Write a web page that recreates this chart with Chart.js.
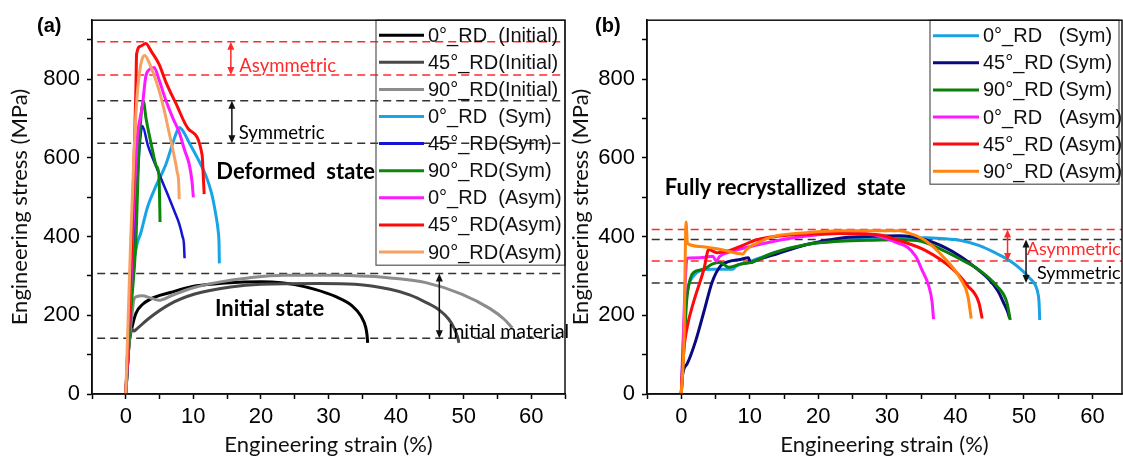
<!DOCTYPE html>
<html>
<head>
<meta charset="UTF-8">
<title>Engineering stress-strain curves</title>
<script src="https://cdn.jsdelivr.net/npm/chart.js@4"></script>
<style>
  body { margin: 0; background: #fff; }
  #wrap { position: relative; width: 1123px; height: 459px; overflow: hidden; }
  canvas { position: absolute; top: 0; }
  #chartA { left: 0; }
  #chartB { left: 568px; }
</style>
</head>
<body>
<div id="wrap">
  <canvas id="chartA" width="570" height="459"></canvas>
  <canvas id="chartB" width="555" height="459"></canvas>
</div>
<script>
// ---------- data: [strain %, stress MPa] ----------
// (a) initial + deformed state
const aInit0 = [[0,0],[0.5,130],[0.8,160],[1.5,205],[2.5,228],[4.4,247],[6.6,258],[9.3,271],[12,278],[16.7,284],[20,285],[23,283],[25,278],[28,266],[31,248],[33.5,224],[34.8,198],[35.5,170],[35.7,150],[35.8,130]];
const aInit45 = [[0,0],[0.5,130],[0.9,165],[1.2,160],[1.6,165],[3.4,192],[6.6,229],[10.2,254],[15.5,272],[20,279],[28.6,281],[33.9,279],[39.1,266],[42,252],[44.4,233],[46.5,212],[47.8,190],[48.6,167],[49.1,145],[49.3,130]];
const aInit90 = [[0,0],[0.5,130],[0.9,200],[1.2,240],[1.5,247],[2.5,250],[3.5,245],[4.9,238],[6.9,251],[10,270],[14,285],[18.1,295],[23.4,302],[31.3,302],[36,299],[39.1,295],[44.4,283],[49.7,254],[53.9,217],[56,190],[57.2,168]];
const aSym0 = [[0,0],[0.5,180],[1.0,309],[1.7,383],[2.2,408],[3.2,474],[4.5,530],[5.9,582],[7.0,640],[7.6,669],[7.9,677],[8.4,670],[9.35,640],[10.6,600],[11.8,557],[12.7,510],[13.3,458],[13.7,410],[13.8,383],[13.85,332]];
const aSym45 = [[0,0],[0.8,250],[1.5,480],[2.0,620],[2.45,681],[3.3,630],[4.4,582],[5.4,540],[6.4,499],[7.3,460],[7.9,433],[8.4,400],[8.6,383],[8.7,345]];
const aSym90 = [[0,0],[0.7,200],[1.48,383],[1.96,624],[2.6,744],[3.0,700],[3.9,624],[4.5,580],[4.9,556],[5.0,500],[5.07,437]];
const aAsym0 = [[0,0],[0.8,300],[1.3,520],[1.7,649],[2.45,731],[2.95,806],[3.5,825],[4.2,830],[4.9,800],[5.9,748],[7.0,700],[7.9,665],[8.7,620],[9.4,583],[9.8,540],[10.0,500]];
const aAsym45 = [[0,0],[0.5,200],[0.88,383],[1.1,520],[1.33,665],[1.5,780],[1.6,864],[2.2,884],[2.95,891],[3.8,870],[4.9,839],[6.0,790],[7.4,739],[9.3,673],[11.3,607],[11.45,560],[11.6,508]];
const aAsym90 = [[0,0],[0.74,400],[1.2,600],[1.6,740],[2.0,814],[2.4,850],[2.8,860],[3.5,840],[4.9,773],[5.7,720],[6.4,665],[7.1,610],[7.6,565],[7.85,530],[7.9,495]];
const aRefAsym = [895, 811];
const aRefSym = [745, 637.5];
const aRefInit = [306, 142];

// (b) fully recrystallized state
const bSym0 = [[0,0],[0.5,200],[1.0,270],[1.8,300],[2.7,313],[4.6,317],[6.1,317],[7.5,317],[8.0,325],[9.5,334],[13.5,358],[18.3,380],[23.1,390],[28,394],[32,395],[35.6,397],[38,395],[40.8,390],[43.5,377],[46,357],[48,338],[49.6,316],[50.8,295],[51.7,275],[52.1,250],[52.2,233],[52.3,188]];
const bSym45 = [[0,0],[0.15,44],[0.87,77],[2.1,135],[3.3,209],[4.5,284],[5.7,325],[7,337],[8.6,342],[9.8,346],[10.1,334],[11,340],[13.5,354],[18.3,380],[23.1,396],[27,400],[31.9,402],[35.6,392],[38.5,372],[40.8,349],[43,320],[44.9,291],[46.2,262],[47,233],[47.7,205],[47.9,192]];
const bSym90 = [[0,0],[0.5,150],[0.8,240],[1.3,292],[1.8,309],[3.3,317],[4.5,330],[5.7,334],[6.9,322],[8.6,330],[10.1,334],[13.5,359],[18.3,380],[23.1,388],[28,391],[31.9,392],[35,388],[38.2,365],[41,340],[43.4,316],[46,275],[47.5,233],[48,188]];
const bAsym0 = [[0,0],[0.5,250],[0.84,345],[2.7,346],[4.6,350],[5.1,338],[5.6,350],[6.7,359],[10.1,375],[15.9,396],[23.1,408],[28,405],[31.5,384],[33,373],[34.2,350],[35.1,316],[36.1,275],[36.6,233],[36.8,190]];
const bAsym45 = [[0,0],[0.3,100],[0.84,168],[1.8,234],[3.3,317],[4.0,367],[5.2,359],[6.7,363],[8.6,375],[11,392],[15.9,404],[23.1,408],[27,407],[29,404],[31.4,392],[35.6,365],[39.7,316],[41.8,275],[43.4,233],[43.9,192]];
const bAsym90 = [[0,0],[0.4,135],[0.7,437],[0.9,383],[2.7,375],[6.1,366],[9.0,356],[9.5,367],[11,383],[13.4,400],[18.3,410],[23.1,415],[31.9,415],[33.5,407],[35.6,390],[38.2,349],[40.8,291],[41.8,250],[42.3,192]];
const bRefAsym = [418, 338];
const bRefSym = [392.5, 282];

const xTicks = { min: -5, step: 5, labelEvery: 10 };
const yTicks = { min: 0, max: 950, step: 100, labelEvery: 200 };

// ---------- helpers ----------
const ARIAL = '"Liberation Sans", Arial, sans-serif';
const CALIB = 'Lato, "Open Sans", sans-serif';

function series(label, pts, color, width) {
  return {
    label, data: pts.map(p => ({ x: p[0], y: p[1] })),
    borderColor: color, borderWidth: width || 2.5,
    pointRadius: 0, cubicInterpolationMode: 'monotone', fill: false
  };
}
function refLine(v, color) {
  return {
    isRef: true, data: [{ x: -10, y: v }, { x: 80, y: v }],
    borderColor: color, borderWidth: 1.5, borderDash: [8, 5], pointRadius: 0
  };
}
// every step from min up to the axis max, no snapping of the last tick
function stepTicks(scale, step) {
  const out = [];
  for (let v = scale.min; v <= scale.max + 1e-9; v += step) out.push({ value: Math.round(v * 100) / 100 });
  scale.ticks = out;
}

const framePlugin = {
  id: 'frame',
  afterDraw(chart) {
    const { ctx, chartArea: a } = chart;
    ctx.save();
    ctx.strokeStyle = '#111';
    ctx.lineWidth = 1.5;
    ctx.strokeRect(a.left, a.top, a.right - a.left, a.bottom - a.top);
    ctx.restore();
  }
};

const notesPlugin = {
  id: 'notes',
  afterDatasetsDraw(chart, args, opts) {
    const { ctx, scales: { x, y } } = chart;
    ctx.save();
    (opts.arrows || []).forEach(a => {
      const px = x.getPixelForValue(a.x);
      const top = y.getPixelForValue(a.y1), bot = y.getPixelForValue(a.y2);
      ctx.strokeStyle = a.color; ctx.fillStyle = a.color; ctx.lineWidth = 1.5;
      ctx.beginPath(); ctx.moveTo(px, top + 4); ctx.lineTo(px, bot - 4); ctx.stroke();
      ctx.beginPath(); ctx.moveTo(px, top); ctx.lineTo(px - 3.5, top + 8); ctx.lineTo(px + 3.5, top + 8); ctx.fill();
      ctx.beginPath(); ctx.moveTo(px, bot); ctx.lineTo(px - 3.5, bot - 8); ctx.lineTo(px + 3.5, bot - 8); ctx.fill();
    });
    (opts.texts || []).forEach(t => {
      const px = t.px ? t.x : x.getPixelForValue(t.x);
      const py = t.px ? t.y : y.getPixelForValue(t.y);
      ctx.font = t.font;
      ctx.fillStyle = t.color || '#000';
      ctx.textAlign = 'left';
      ctx.textBaseline = 'middle';
      ctx.fillText(t.text, px, py);
    });
    ctx.restore();
  }
};

const boxLegendPlugin = {
  id: 'boxLegend',
  afterDatasetsDraw(chart, args, opts) {
    const { ctx, chartArea: a } = chart;
    const items = chart.data.datasets.filter(d => !d.isRef);
    const left = a.right - opts.fromRight;
    ctx.save();
    ctx.strokeStyle = '#555';
    ctx.lineWidth = 1.2;
    ctx.strokeRect(left, a.top, opts.width, opts.height);
    ctx.font = '20px ' + ARIAL;
    ctx.textBaseline = 'middle';
    ctx.textAlign = 'left';
    items.forEach((d, i) => {
      const yy = a.top + opts.firstRow + i * opts.rowH;
      ctx.strokeStyle = d.borderColor;
      ctx.lineWidth = 3;
      ctx.beginPath();
      ctx.moveTo(left + 3, yy); ctx.lineTo(left + 3 + opts.lineLen, yy);
      ctx.stroke();
      ctx.fillStyle = '#111';
      ctx.fillText(d.label, left + opts.textX, yy + 1);
    });
    ctx.restore();
  }
};

function scales(xMax, yWidth, yTitlePad) {
  return {
    x: {
      type: 'linear', min: xTicks.min, max: xMax,
      afterBuildTicks: s => stepTicks(s, xTicks.step),
      ticks: {
        autoSkip: false, maxRotation: 0, padding: 5, color: '#000',
        font: { family: ARIAL, size: 22 },
        callback: v => (v % xTicks.labelEvery === 0 ? v : '')
      },
      grid: { drawOnChartArea: false, tickLength: 5, tickWidth: 1.5, tickColor: '#000' },
      border: { color: '#000', width: 1.5 },
      title: { display: true, text: 'Engineering strain (%)', color: '#111',
        font: { family: CALIB, size: 22 }, padding: { top: 0, bottom: 1 } },
      afterFit(s) { s.height = 65; }
    },
    y: {
      min: yTicks.min, max: yTicks.max,
      afterBuildTicks: s => stepTicks(s, yTicks.step),
      ticks: {
        autoSkip: false, padding: 7, color: '#000',
        font: { family: ARIAL, size: 22 },
        callback: v => (v % yTicks.labelEvery === 0 ? v : '')
      },
      grid: { drawOnChartArea: false, tickLength: 5, tickWidth: 1.5, tickColor: '#000' },
      border: { color: '#000', width: 1.5 },
      title: { display: true, text: 'Engineering stress (MPa)', color: '#111',
        font: { family: CALIB, size: 22 }, padding: { top: yTitlePad, bottom: 0 } },
      afterFit(s) { s.width = yWidth; }
    }
  };
}

// ---------- panel (a) ----------
const aSets = [
  series('0°_RD  (Initial)', aInit0, '#000000', 3),
  series('45°_RD(Initial)', aInit45, '#484848', 3),
  series('90°_RD(Initial)', aInit90, '#8c8c8c', 3),
  series('0°_RD  (Sym)', aSym0, '#17a5e6', 3),
  series('45°_RD(Sym)', aSym45, '#1414d4', 2.5),
  series('90°_RD(Sym)', aSym90, '#0b870b', 3),
  series('0°_RD  (Asym)', aAsym0, '#ff19ff', 3),
  series('45°_RD(Asym)', aAsym45, '#ff0a0a', 3),
  series('90°_RD(Asym)', aAsym90, '#f6a265', 3)
];
aSets.forEach((d, i) => { d.order = -i; });
aRefAsym.forEach(v => aSets.push(refLine(v, '#ff2a2a')));
aRefSym.concat(aRefInit).forEach(v => aSets.push(refLine(v, '#333')));

new Chart(document.getElementById('chartA'), {
  type: 'line',
  data: { datasets: aSets },
  options: {
    responsive: false, animation: false,
    layout: { padding: { top: 12, right: 2, left: 0, bottom: 0 } },
    scales: scales(65, 92, 7),
    plugins: {
      legend: { display: false }, tooltip: { enabled: false },
      boxLegend: { fromRight: 189, width: 189, height: 245, firstRow: 15, rowH: 27.1, lineLen: 45, textX: 52 },
      notes: {
        arrows: [
          { x: 15.55, y1: 895, y2: 811, color: '#ff2a2a' },
          { x: 15.7, y1: 745, y2: 637.5, color: '#111' },
          { x: 46.4, y1: 306, y2: 142, color: '#111' }
        ],
        texts: [
          { text: '(a)', x: 37, y: 26, px: true, font: 'bold 20px ' + ARIAL },
          { text: 'Asymmetric', x: 16.8, y: 834, color: '#ff2a2a', font: '18.5px ' + CALIB },
          { text: 'Symmetric', x: 16.7, y: 662, font: '18.5px ' + CALIB },
          { text: 'Deformed  state', x: 13.4, y: 565, font: 'bold 22px ' + CALIB },
          { text: 'Initial state', x: 13.2, y: 216, font: 'bold 22px ' + CALIB },
          { text: 'Initial material', x: 47.7, y: 159, font: '19.5px ' + CALIB }
        ]
      }
    }
  },
  plugins: [framePlugin, notesPlugin, boxLegendPlugin]
});

// ---------- panel (b) ----------
const bSets = [
  series('0°_RD   (Sym)', bSym0, '#1aa2e2', 3),
  series('45°_RD (Sym)', bSym45, '#0a0a80', 3),
  series('90°_RD (Sym)', bSym90, '#0a800a', 3),
  series('0°_RD   (Asym)', bAsym0, '#ff19ff', 3),
  series('45°_RD (Asym)', bAsym45, '#ff0a0a', 3),
  series('90°_RD (Asym)', bAsym90, '#ff8410', 3)
];
bSets.forEach((d, i) => { d.order = -i; });
bRefAsym.forEach(v => bSets.push(refLine(v, '#ff2a2a')));
bRefSym.forEach(v => bSets.push(refLine(v, '#333')));

new Chart(document.getElementById('chartB'), {
  type: 'line',
  data: { datasets: bSets },
  options: {
    responsive: false, animation: false,
    layout: { padding: { top: 12, right: 1, left: 0, bottom: 0 } },
    scales: scales(64.3, 79, 0),
    plugins: {
      legend: { display: false }, tooltip: { enabled: false },
      boxLegend: { fromRight: 192, width: 189, height: 164, firstRow: 15.5, rowH: 27.1, lineLen: 46, textX: 53 },
      notes: {
        arrows: [
          { x: 47.6, y1: 418, y2: 338, color: '#ff2a2a' },
          { x: 50.3, y1: 392.5, y2: 282, color: '#111' }
        ],
        texts: [
          { text: '(b)', x: 27, y: 26, px: true, font: 'bold 20px ' + ARIAL },
          { text: 'Fully recrystallized  state', x: -2.4, y: 524, font: 'bold 22px ' + CALIB },
          { text: 'Asymmetric', x: 50.4, y: 367, color: '#ff2a2a', font: '18px ' + CALIB },
          { text: 'Symmetric', x: 51.9, y: 307, font: '18px ' + CALIB }
        ]
      }
    }
  },
  plugins: [framePlugin, notesPlugin, boxLegendPlugin]
});
</script>
</body>
</html>
